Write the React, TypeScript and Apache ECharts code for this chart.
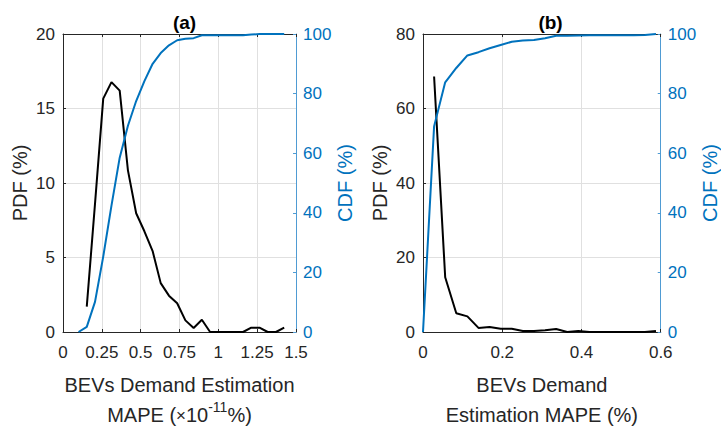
import React, { useEffect, useRef } from "react";
import * as echarts from "echarts";

// Panel (a)
const pdfAX = [0.153, 0.206, 0.259, 0.312, 0.365, 0.418, 0.471, 0.524, 0.577, 0.629, 0.682, 0.735, 0.788, 0.841, 0.894, 0.947, 1.0, 1.053, 1.106, 1.159, 1.212, 1.265, 1.318, 1.371, 1.424];
const pdfAY = [1.7, 8.6, 15.66, 16.77, 16.2, 10.85, 7.97, 6.76, 5.43, 3.28, 2.44, 1.93, 0.78, 0.27, 0.82, 0, 0, 0, 0, 0, 0.29, 0.29, 0, 0, 0.29];
const cdfAX = [0.1, 0.153, 0.206, 0.259, 0.312, 0.365, 0.418, 0.471, 0.524, 0.577, 0.629, 0.682, 0.735, 0.788, 0.841, 0.894, 0.947, 1.0, 1.053, 1.106, 1.159, 1.212, 1.265, 1.318, 1.371, 1.424];
const cdfAY = [0, 1.7, 10.1, 25.3, 42.4, 58.5, 69.2, 77.5, 84.2, 90.0, 93.6, 96.2, 97.9, 98.4, 98.6, 99.6, 99.6, 99.6, 99.6, 99.6, 99.6, 99.8, 100, 100, 100, 100];

// Panel (b)
const pdfBX = [0.028, 0.056, 0.084, 0.112, 0.14, 0.168, 0.196, 0.224, 0.252, 0.28, 0.308, 0.336, 0.364, 0.392, 0.42, 0.448, 0.476, 0.504, 0.532, 0.56, 0.588];
const pdfBY = [68.6, 14.7, 5.05, 4.2, 1.1, 1.35, 0.9, 0.9, 0.27, 0.27, 0.45, 0.8, 0, 0.27, 0, 0, 0, 0, 0, 0, 0.27];
const cdfBX = [0, 0.028, 0.056, 0.084, 0.112, 0.14, 0.168, 0.196, 0.224, 0.252, 0.28, 0.308, 0.336, 0.364, 0.392, 0.42, 0.448, 0.476, 0.504, 0.532, 0.56, 0.588];
const cdfBY = [0, 69.0, 83.8, 88.6, 92.8, 93.9, 95.2, 96.3, 97.4, 97.8, 98.0, 98.6, 99.4, 99.4, 99.5, 99.6, 99.6, 99.6, 99.6, 99.6, 99.7, 100];

const titles = ["(a)", "(b)"];
const xNames = ["BEVs Demand Estimation\nMAPE ({x|×}10{sup|-11}%)", "BEVs Demand\nEstimation MAPE (%)"];
const yLeftName = "PDF (%)";
const yRightName = "CDF (%)";

const FONT = "Liberation Sans, Arial, Helvetica, sans-serif";
const BLACK = "#262626";
const BLUE = "#0072BD";
const BLUE_AXIS = "#4f9bd3";
const GRIDC = "#e0e0e0";

const zip = (xs: number[], ys: number[]) => xs.map((x, i) => [x, ys[i]]);

export default function App() {
  const ref = useRef<HTMLDivElement>(null);
  useEffect(() => {
    document.body.style.margin = "0";
    const chart = echarts.init(ref.current!, null, { renderer: "svg" });
    const grids = [
      { left: 63, right: 425, top: 34, bottom: 100 },
      { left: 423, right: 53, top: 34, bottom: 100 },
    ];
    const bottomX = (gi: number, max: number, interval: number, name: string) => ({
      type: "value",
      gridIndex: gi,
      position: "bottom",
      min: 0,
      max,
      interval,
      name,
      nameLocation: "middle",
      nameGap: 38,
      nameTextStyle: {
        fontFamily: FONT,
        fontSize: 20,
        color: BLACK,
        lineHeight: 30,
        rich: {
          sup: { fontFamily: FONT, fontSize: 14, color: BLACK, verticalAlign: "top", lineHeight: 30 },
          x: { fontFamily: FONT, fontSize: 17, color: BLACK, lineHeight: 30 },
        },
      },
      axisLine: { show: true, onZero: false, lineStyle: { color: BLACK, width: 1 } },
      axisTick: { show: true, inside: true, length: 3, lineStyle: { color: BLACK } },
      axisLabel: { fontFamily: FONT, fontSize: 17, color: BLACK, margin: 12 },
      splitLine: { show: true, lineStyle: { color: GRIDC, width: 1 } },
    });
    const topX = (gi: number, max: number, interval: number) => ({
      type: "value",
      gridIndex: gi,
      position: "top",
      min: 0,
      max,
      interval,
      axisLine: { show: true, onZero: false, lineStyle: { color: BLACK, width: 1 } },
      axisTick: { show: true, inside: true, length: 3, lineStyle: { color: BLACK } },
      axisLabel: { show: false },
      splitLine: { show: false },
    });
    const leftY = (gi: number, max: number, interval: number) => ({
      type: "value",
      gridIndex: gi,
      position: "left",
      min: 0,
      max,
      interval,
      name: yLeftName,
      nameLocation: "middle",
      nameRotate: 90,
      nameGap: 33,
      nameTextStyle: { fontFamily: FONT, fontSize: 20, color: BLACK },
      axisLine: { show: true, onZero: false, lineStyle: { color: BLACK, width: 1 } },
      axisTick: { show: true, inside: true, length: 3, lineStyle: { color: BLACK } },
      axisLabel: { fontFamily: FONT, fontSize: 17, color: BLACK, margin: 8 },
      splitLine: { show: true, lineStyle: { color: GRIDC, width: 1 } },
    });
    const rightY = (gi: number, gap: number) => ({
      type: "value",
      gridIndex: gi,
      position: "right",
      min: 0,
      max: 100,
      interval: 20,
      name: yRightName,
      nameLocation: "middle",
      nameRotate: 90,
      nameGap: gap,
      nameTextStyle: { fontFamily: FONT, fontSize: 20, color: BLUE },
      axisLine: { show: true, onZero: false, lineStyle: { color: BLUE_AXIS, width: 1 } },
      axisTick: { show: true, inside: true, length: 3, lineStyle: { color: BLUE_AXIS } },
      axisLabel: { fontFamily: FONT, fontSize: 17, color: BLUE, margin: 7 },
      splitLine: { show: false },
    });
    const lineS = (xi: number, yi: number, data: number[][], color: string, z: number) => ({
      type: "line",
      xAxisIndex: xi,
      yAxisIndex: yi,
      data,
      showSymbol: false,
      symbol: "none",
      z,
      lineStyle: { color, width: 2 },
    });
    const titleStyle = { fontFamily: FONT, fontSize: 19, fontWeight: "bold", color: "#000" };
    chart.setOption({
      animation: false,
      backgroundColor: "#ffffff",
      title: [
        { text: titles[0], left: 179.5, top: 8, textAlign: "center", textStyle: titleStyle },
        { text: titles[1], left: 545.5, top: 8, textAlign: "center", textStyle: titleStyle },
      ],
      grid: grids,
      xAxis: [bottomX(0, 1.5, 0.25, xNames[0]), topX(0, 1.5, 0.25), bottomX(1, 0.6, 0.2, xNames[1]), topX(1, 0.6, 0.2)],
      yAxis: [leftY(0, 20, 5), rightY(0, 37), leftY(1, 80, 20), rightY(1, 33)],
      series: [
        lineS(0, 0, zip(pdfAX, pdfAY), "#000000", 3),
        lineS(0, 1, zip(cdfAX, cdfAY), BLUE, 4),
        lineS(2, 2, zip(pdfBX, pdfBY), "#000000", 3),
        lineS(2, 3, zip(cdfBX, cdfBY), BLUE, 4),
      ],
    });
    return () => chart.dispose();
  }, []);
  return <div ref={ref} style={{ width: 721, height: 435 }} />;
}
